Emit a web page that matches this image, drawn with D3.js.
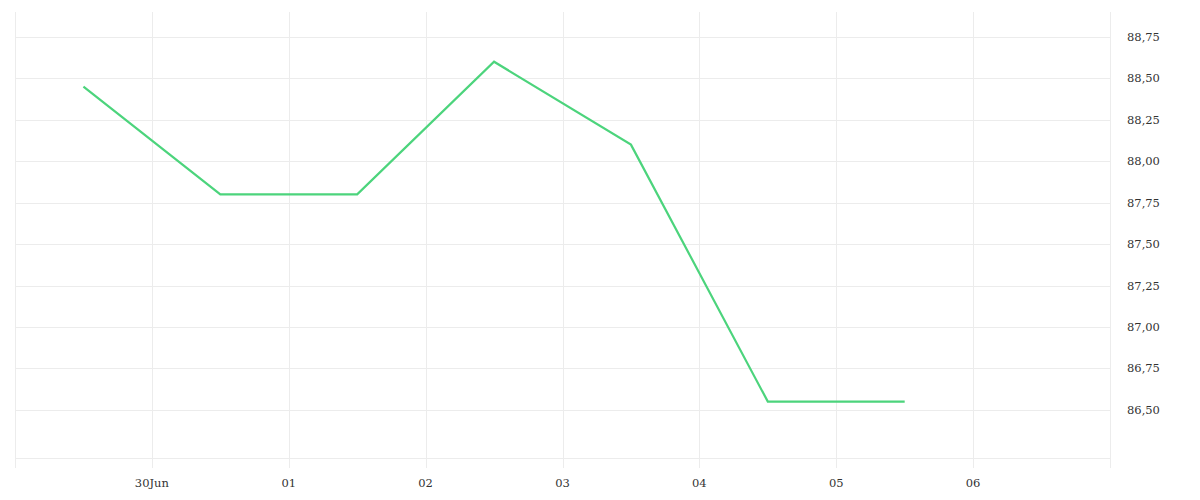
<!DOCTYPE html>
<html>
<head>
<meta charset="utf-8">
<script src="https://cdn.jsdelivr.net/npm/d3@7"></script>
<style>
  html, body { margin: 0; padding: 0; background: #fff; }
  svg { display: block; }
  .lbl { font-family: "DejaVu Serif", serif; font-size: 11.5px; fill: #333; }
</style>
</head>
<body>
<svg id="chart" width="1200" height="500"></svg>
<script>
// Data
const dates = ["2023-06-29T12:00", "2023-06-30T12:00", "2023-07-01T12:00", "2023-07-02T12:00", "2023-07-03T12:00", "2023-07-04T12:00", "2023-07-05T12:00"];
const values = [88.45, 87.80, 87.80, 88.60, 88.10, 86.55, 86.55];
const yTicks = [86.50, 86.75, 87.00, 87.25, 87.50, 87.75, 88.00, 88.25, 88.50, 88.75];
const xTickDates = ["2023-06-30", "2023-07-01", "2023-07-02", "2023-07-03", "2023-07-04", "2023-07-05", "2023-07-06"];
const xTickLabels = ["30Jun", "01", "02", "03", "04", "05", "06"];
const xDomain = ["2023-06-29", "2023-07-07"];
const yDomain = [86.21, 88.90];

const parse = d3.timeParse("%Y-%m-%dT%H:%M");
const parseDay = d3.timeParse("%Y-%m-%d");

const mLeft = 15, mRight = 1110, mTop = 12, mBottom = 458;
const svg = d3.select("#chart");

const x = d3.scaleTime().domain(xDomain.map(parseDay)).range([mLeft, mRight]);
const y = d3.scaleLinear().domain(yDomain).range([mBottom, mTop]);

const grid = "#ececec";

// horizontal gridlines
svg.append("g").selectAll("line").data(yTicks).join("line")
  .attr("x1", mLeft).attr("x2", mRight)
  .attr("y1", d => Math.round(y(d)) + 0.5).attr("y2", d => Math.round(y(d)) + 0.5)
  .attr("stroke", grid).attr("stroke-width", 1);

// bottom baseline
svg.append("line").attr("x1", mLeft).attr("x2", mRight)
  .attr("y1", mBottom + 0.5).attr("y2", mBottom + 0.5)
  .attr("stroke", grid);

// vertical gridlines (including edges)
const vDates = [xDomain[0], ...xTickDates, xDomain[1]].map(parseDay);
svg.append("g").selectAll("line").data(vDates).join("line")
  .attr("x1", d => Math.round(x(d)) + 0.5).attr("x2", d => Math.round(x(d)) + 0.5)
  .attr("y1", mTop).attr("y2", mBottom + 10)
  .attr("stroke", grid).attr("stroke-width", 1);

// x labels
svg.append("g").selectAll("text").data(xTickDates).join("text")
  .attr("class", "lbl")
  .attr("x", (d) => x(parseDay(d)))
  .attr("y", 487)
  .attr("text-anchor", "middle")
  .text((d, i) => xTickLabels[i]);

// y labels
svg.append("g").selectAll("text").data(yTicks).join("text")
  .attr("class", "lbl")
  .attr("x", 1127)
  .attr("y", d => y(d))
  .attr("dy", "0.35em")
  .text(d => d3.format(".2f")(d).replace(".", ","));

// line
const line = d3.line()
  .x((d, i) => x(parse(dates[i])))
  .y(d => y(d));

svg.append("path").datum(values)
  .attr("d", line)
  .attr("fill", "none")
  .attr("stroke", "#4cd47c")
  .attr("stroke-width", 2.2)
  .attr("stroke-linejoin", "miter");
</script>
</body>
</html>
